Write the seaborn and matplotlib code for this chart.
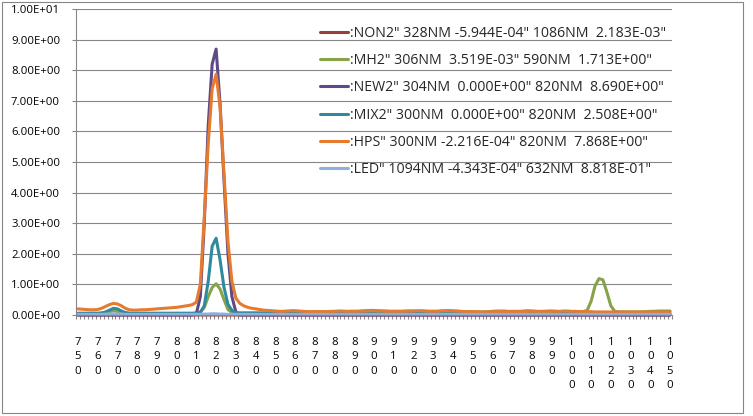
import numpy as np
import pandas as pd
import matplotlib
matplotlib.use("Agg")
import matplotlib.pyplot as plt
from matplotlib.patches import Rectangle
from matplotlib.lines import Line2D
from matplotlib.ticker import FuncFormatter
import seaborn as sns

# ---------------- data ----------------
wavelengths = list(range(750, 1051, 2))  # category axis, 2 nm steps

series_names = ["NON2", "MH2", "NEW2", "MIX2", "HPS", "LED"]
legend_labels = [
    ':NON2" 328NM -5.944E-04" 1086NM  2.183E-03"',
    ':MH2" 306NM  3.519E-03" 590NM  1.713E+00"',
    ':NEW2" 304NM  0.000E+00" 820NM  8.690E+00"',
    ':MIX2" 300NM  0.000E+00" 820NM  2.508E+00"',
    ':HPS" 300NM -2.216E-04" 820NM  7.868E+00"',
    ':LED" 1094NM -4.343E-04" 632NM  8.818E-01"',
]

non2 = [
    0.001, 0.001, 0.001, 0.001, 0.001, 0.001, 0.001, 0.001, 0.001, 0.001,
    0.001, 0.001, 0.001, 0.001, 0.001, 0.001, 0.001, 0.001, 0.001, 0.001,
    0.001, 0.001, 0.001, 0.001, 0.001, 0.001, 0.001, 0.001, 0.001, 0.001,
    0.001, 0.001, 0.001, 0.002, 0.002, 0.002, 0.002, 0.002, 0.001, 0.001,
    0.001, 0.001, 0.001, 0.001, 0.001, 0.001, 0.001, 0.001, 0.001, 0.001,
    0.001, 0.001, 0.001, 0.001, 0.001, 0.001, 0.001, 0.001, 0.001, 0.001,
    0.001, 0.001, 0.001, 0.001, 0.001, 0.001, 0.001, 0.001, 0.001, 0.001,
    0.001, 0.001, 0.001, 0.001, 0.001, 0.001, 0.001, 0.001, 0.001, 0.001,
    0.001, 0.001, 0.001, 0.001, 0.001, 0.001, 0.001, 0.001, 0.001, 0.001,
    0.001, 0.001, 0.001, 0.001, 0.001, 0.001, 0.001, 0.001, 0.001, 0.001,
    0.001, 0.001, 0.001, 0.001, 0.001, 0.001, 0.001, 0.001, 0.001, 0.001,
    0.001, 0.001, 0.001, 0.001, 0.001, 0.001, 0.001, 0.001, 0.001, 0.001,
    0.001, 0.001, 0.001, 0.001, 0.001, 0.001, 0.001, 0.001, 0.001, 0.001,
    0.001, 0.001, 0.001, 0.001, 0.001, 0.001, 0.001, 0.001, 0.001, 0.001,
    0.001, 0.001, 0.001, 0.001, 0.001, 0.001, 0.001, 0.001, 0.001, 0.001,
    0.001,
]

mh2 = [
    # 750-760
    0.06, 0.06, 0.06, 0.06, 0.06, 0.06,
    # 762-776
    0.07, 0.09, 0.11, 0.14, 0.12, 0.09, 0.07, 0.06,
    # 778-800
    0.06, 0.06, 0.06, 0.06, 0.06, 0.06, 0.06, 0.06, 0.06, 0.06, 0.06, 0.06,
    # 802-810
    0.06, 0.06, 0.06, 0.06, 0.07,
    # 812-850
    0.10, 0.25, 0.60, 0.90, 1.02, 0.85, 0.50, 0.18, 0.08, 0.07,
    0.07, 0.07, 0.07, 0.07, 0.07, 0.07, 0.07, 0.08, 0.08, 0.08,
    # 852-1050
    0.08, 0.08, 0.08, 0.09, 0.09, 0.09, 0.09, 0.09, 0.09, 0.10,
    0.10, 0.10, 0.10, 0.10, 0.10, 0.11, 0.11, 0.11, 0.12, 0.12,
    0.12, 0.13, 0.14, 0.15, 0.15, 0.14, 0.13, 0.13, 0.12, 0.12,
    0.12, 0.12, 0.13, 0.13, 0.12, 0.12, 0.12, 0.12, 0.12, 0.12,
    0.12, 0.13, 0.13, 0.14, 0.13, 0.12, 0.11, 0.11, 0.11, 0.10,
    0.10, 0.10, 0.10, 0.11, 0.12, 0.13, 0.13, 0.13, 0.12, 0.12,
    0.12, 0.12, 0.13, 0.14, 0.13, 0.12, 0.12, 0.12, 0.13, 0.13,
    0.12, 0.11, 0.11, 0.11, 0.11, 0.11, 0.11, 0.11, 0.15, 0.45,
    0.95, 1.19, 1.15, 0.75, 0.30, 0.12, 0.10, 0.10, 0.10, 0.10,
    0.10, 0.10, 0.10, 0.11, 0.12, 0.12, 0.13, 0.13, 0.13, 0.13,
]

new2 = [
    0.0, 0.0, 0.0, 0.0, 0.0, 0.0, 0.0, 0.0, 0.0, 0.0,
    0.0, 0.0, 0.0, 0.0, 0.0, 0.0, 0.0, 0.0, 0.0, 0.0,
    0.0, 0.0, 0.0, 0.0, 0.0, 0.0, 0.0, 0.0, 0.0, 0.0,
    0.05,
    # 812-850
    0.60, 3.00, 6.20, 8.20, 8.69, 6.90, 4.40, 2.00, 0.60, 0.10,
    0.0, 0.0, 0.0, 0.0, 0.0, 0.0, 0.0, 0.0, 0.0, 0.0,
    # 852-1050
    0.0, 0.0, 0.0, 0.0, 0.0, 0.0, 0.0, 0.0, 0.0, 0.0,
    0.0, 0.0, 0.0, 0.0, 0.0, 0.0, 0.0, 0.0, 0.0, 0.0,
    0.0, 0.0, 0.0, 0.0, 0.0, 0.0, 0.0, 0.0, 0.0, 0.0,
    0.0, 0.0, 0.0, 0.0, 0.0, 0.0, 0.0, 0.0, 0.0, 0.0,
    0.0, 0.0, 0.0, 0.0, 0.0, 0.0, 0.0, 0.0, 0.0, 0.0,
    0.0, 0.0, 0.0, 0.0, 0.0, 0.0, 0.0, 0.0, 0.0, 0.0,
    0.0, 0.0, 0.0, 0.0, 0.0, 0.0, 0.0, 0.0, 0.0, 0.0,
    0.0, 0.0, 0.0, 0.0, 0.0, 0.0, 0.0, 0.0, 0.0, 0.0,
    0.0, 0.0, 0.0, 0.0, 0.0, 0.0, 0.0, 0.0, 0.0, 0.0,
    0.0, 0.0, 0.0, 0.0, 0.0, 0.0, 0.0, 0.0, 0.0, 0.0,
]

mix2 = [
    # 750-760
    0.05, 0.05, 0.05, 0.05, 0.05, 0.05,
    # 762-776
    0.06, 0.10, 0.16, 0.22, 0.20, 0.13, 0.08, 0.05,
    # 778-800
    0.05, 0.05, 0.05, 0.05, 0.05, 0.05, 0.05, 0.05, 0.05, 0.05, 0.05, 0.05,
    # 802-810
    0.05, 0.05, 0.05, 0.05, 0.06,
    # 812-850
    0.08, 0.30, 1.10, 2.25, 2.508, 1.80, 0.90, 0.35, 0.15, 0.08,
    0.06, 0.06, 0.06, 0.06, 0.06, 0.06, 0.06, 0.06, 0.06, 0.06,
    # 852-1050
    0.05, 0.05, 0.05, 0.05, 0.05, 0.05, 0.05, 0.05, 0.05, 0.05,
    0.05, 0.05, 0.05, 0.05, 0.05, 0.05, 0.05, 0.05, 0.05, 0.05,
    0.05, 0.05, 0.05, 0.05, 0.05, 0.05, 0.05, 0.05, 0.05, 0.05,
    0.05, 0.05, 0.05, 0.05, 0.05, 0.05, 0.05, 0.05, 0.05, 0.05,
    0.05, 0.05, 0.05, 0.05, 0.05, 0.05, 0.05, 0.05, 0.05, 0.05,
    0.05, 0.05, 0.05, 0.05, 0.05, 0.05, 0.05, 0.05, 0.05, 0.05,
    0.05, 0.05, 0.05, 0.05, 0.05, 0.05, 0.05, 0.05, 0.05, 0.05,
    0.05, 0.05, 0.05, 0.05, 0.05, 0.05, 0.05, 0.05, 0.05, 0.05,
    0.05, 0.05, 0.05, 0.05, 0.05, 0.05, 0.05, 0.05, 0.05, 0.05,
    0.05, 0.05, 0.05, 0.05, 0.05, 0.05, 0.05, 0.05, 0.05, 0.05,
]

hps = [
    # 750-760
    0.20, 0.19, 0.18, 0.17, 0.17, 0.18,
    # 762-776
    0.22, 0.28, 0.34, 0.38, 0.36, 0.30, 0.22, 0.17,
    # 778-800
    0.16, 0.16, 0.17, 0.17, 0.18, 0.19, 0.20, 0.21, 0.22, 0.23, 0.24, 0.25,
    # 802-810
    0.27, 0.29, 0.31, 0.34, 0.42,
    # 812-850
    1.00, 3.20, 5.60, 7.40, 7.868, 6.80, 4.60, 2.40, 1.10, 0.55,
    0.38, 0.30, 0.25, 0.22, 0.20, 0.18, 0.16, 0.15, 0.14, 0.13,
    # 852-1050
    0.12, 0.12, 0.13, 0.14, 0.14, 0.13, 0.12, 0.11, 0.11, 0.11,
    0.11, 0.11, 0.11, 0.12, 0.12, 0.13, 0.13, 0.12, 0.12, 0.12,
    0.12, 0.13, 0.13, 0.14, 0.14, 0.13, 0.13, 0.12, 0.12, 0.12,
    0.12, 0.12, 0.12, 0.13, 0.13, 0.14, 0.14, 0.13, 0.12, 0.12,
    0.12, 0.13, 0.14, 0.14, 0.13, 0.13, 0.12, 0.11, 0.11, 0.11,
    0.11, 0.10, 0.10, 0.10, 0.11, 0.11, 0.11, 0.11, 0.11, 0.11,
    0.11, 0.11, 0.11, 0.12, 0.12, 0.12, 0.11, 0.11, 0.11, 0.12,
    0.12, 0.12, 0.13, 0.13, 0.12, 0.12, 0.11, 0.11, 0.11, 0.11,
    0.10, 0.10, 0.10, 0.10, 0.10, 0.10, 0.10, 0.10, 0.10, 0.10,
    0.10, 0.10, 0.10, 0.10, 0.10, 0.10, 0.10, 0.10, 0.10, 0.10,
]

led = [
    0.02, 0.02, 0.02, 0.02, 0.02, 0.02, 0.02, 0.03, 0.03, 0.04,
    0.03, 0.03, 0.02, 0.02, 0.02, 0.02, 0.02, 0.02, 0.02, 0.02,
    0.02, 0.02, 0.02, 0.02, 0.02, 0.02, 0.02, 0.02, 0.02, 0.02,
    0.02, 0.02, 0.03, 0.03, 0.04, 0.04, 0.03, 0.03, 0.02, 0.02,
    0.02, 0.02, 0.02, 0.02, 0.02, 0.02, 0.02, 0.02, 0.02, 0.02,
    0.02, 0.02, 0.02, 0.02, 0.02, 0.02, 0.02, 0.02, 0.02, 0.02,
    0.02, 0.02, 0.02, 0.02, 0.02, 0.02, 0.02, 0.02, 0.02, 0.02,
    0.02, 0.02, 0.02, 0.02, 0.02, 0.02, 0.02, 0.02, 0.02, 0.02,
    0.02, 0.02, 0.02, 0.02, 0.02, 0.02, 0.02, 0.02, 0.02, 0.02,
    0.02, 0.02, 0.02, 0.02, 0.02, 0.02, 0.02, 0.02, 0.02, 0.02,
    0.02, 0.02, 0.02, 0.02, 0.02, 0.02, 0.02, 0.02, 0.02, 0.02,
    0.02, 0.02, 0.02, 0.02, 0.02, 0.02, 0.02, 0.02, 0.02, 0.02,
    0.02, 0.02, 0.02, 0.02, 0.02, 0.02, 0.02, 0.02, 0.02, 0.02,
    0.02, 0.02, 0.02, 0.02, 0.02, 0.02, 0.02, 0.02, 0.02, 0.02,
    0.02, 0.02, 0.02, 0.02, 0.02, 0.02, 0.02, 0.02, 0.02, 0.02,
    0.02,
]

colors = {
    "NON2": "#9B3D3A",
    "MH2": "#86A34A",
    "NEW2": "#5E4A86",
    "MIX2": "#2F8A9E",
    "HPS": "#E67A2E",
    "LED": "#8DB1DC",
}

# ---------------- build table ----------------
values = {"NON2": non2, "MH2": mh2, "NEW2": new2, "MIX2": mix2, "HPS": hps, "LED": led}
idx = np.arange(len(wavelengths))
frames = []
for name in series_names:
    frames.append(pd.DataFrame({"idx": idx, "value": values[name], "series": name}))
df = pd.concat(frames, ignore_index=True)

# ---------------- style ----------------
sns.set_theme(style="white")
plt.rcParams["font.family"] = ["Open Sans", "DejaVu Sans"]
GRAY = "#868686"

fig = plt.figure(figsize=(7.53, 4.16), dpi=100)
ax = fig.add_axes([76 / 753, 101 / 416, 596 / 753, 306 / 416])

sns.lineplot(
    data=df, x="idx", y="value", hue="series", hue_order=series_names,
    palette=colors, linewidth=2.2, ax=ax, legend=False, estimator=None, sort=False,
)
for ln in ax.lines:
    ln.set_clip_on(False)
    ln.set_solid_joinstyle("round")
    ln.set_solid_capstyle("round")

ax.set_xlim(-0.5, len(wavelengths) - 0.5)
ax.set_ylim(0, 10)
ax.set_xlabel("")
ax.set_ylabel("")

# y axis
ax.set_yticks(np.arange(0, 11, 1))
ax.yaxis.set_major_formatter(FuncFormatter(lambda v, p: f"{v:.2E}"))
ax.yaxis.grid(True, color=GRAY, linewidth=0.8)
ax.xaxis.grid(False)
ax.set_axisbelow(True)
ax.tick_params(axis="y", length=3, width=0.8, color=GRAY, pad=8.5,
               labelsize=8.2, labelcolor="black", left=True)

# x axis
label_pos = idx[::5]
label_txt = ["\n".join(str(wavelengths[i])) for i in label_pos]
ax.set_xticks(label_pos)
ax.set_xticklabels(label_txt, linespacing=1.4)
ax.set_xticks(np.arange(-0.5, len(wavelengths), 1), minor=True)
ax.tick_params(axis="x", which="major", length=0, pad=16, labelsize=8.2, labelcolor="black")
ax.tick_params(axis="x", which="minor", length=3, width=0.8, color=GRAY, bottom=True)

for s in ["top", "right"]:
    ax.spines[s].set_visible(False)
for s in ["left", "bottom"]:
    ax.spines[s].set_color(GRAY)
    ax.spines[s].set_linewidth(0.8)

# legend
leg_handles = [Line2D([], [], color=colors[n], linewidth=2.2) for n in series_names]
fig.legend(
    leg_handles, legend_labels, loc="upper left",
    bbox_to_anchor=(320 / 753, 1 - 26 / 416), frameon=False,
    fontsize=10.2, handlelength=2.0, handletextpad=0.15, labelspacing=0.86,
    borderpad=0, borderaxespad=0,
)

# outer chart border
fig.patches.append(Rectangle((2 / 753, 3 / 416), 741 / 753, 411 / 416,
                             transform=fig.transFigure, fill=False,
                             edgecolor=GRAY, linewidth=0.8))

fig.savefig("out.png", dpi=100)
